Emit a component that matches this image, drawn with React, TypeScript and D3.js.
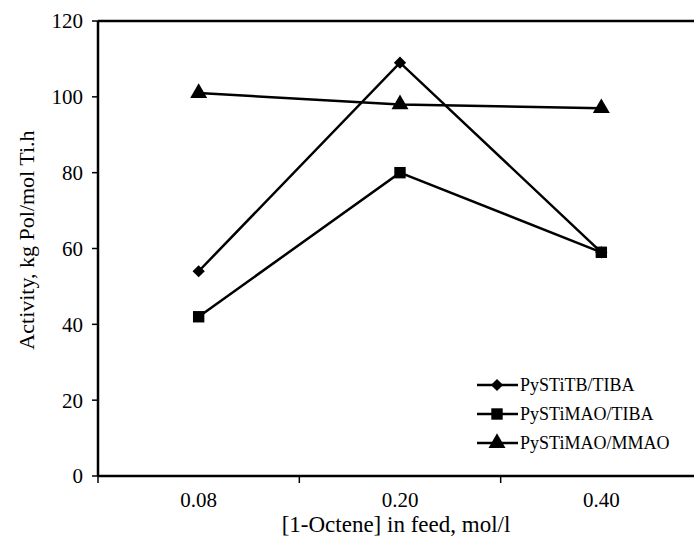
import React from "react";
import * as d3 from "d3";

const categories = ["0.08", "0.20", "0.40"];
const seriesNames = ["PySTiTB/TIBA", "PySTiMAO/TIBA", "PySTiMAO/MMAO"];
const tibaTB = [54, 109, 59];
const tibaMAO = [42, 80, 59];
const mmaoMAO = [101, 98, 97];
const yTicks = [0, 20, 40, 60, 80, 100, 120];

const W = 694, H = 542;
const left = 98, right = 702, top = 21, bottom = 476;
const font = "'Liberation Serif', 'Times New Roman', serif";

function Marker({ type, x, y }: { type: string; x: number; y: number }) {
  const sym = type === "triangle" ? d3.symbolTriangle : d3.symbolSquare;
  const size = type === "diamond" ? 75 : type === "square" ? 130 : 125;
  const p = d3.symbol().type(sym).size(size)();
  const rot = type === "diamond" ? " rotate(45)" : "";
  return <path d={p || ""} transform={`translate(${x},${y})${rot}`} fill="#000" />;
}

export default function App() {
  const x = d3.scaleBand().domain(categories).range([left, right]);
  const y = d3.scaleLinear().domain([0, 120]).range([bottom, top]);
  const series = [
    { name: seriesNames[0], values: tibaTB, m: "diamond" },
    { name: seriesNames[1], values: tibaMAO, m: "square" },
    { name: seriesNames[2], values: mmaoMAO, m: "triangle" },
  ];
  const cx = (c: string) => (x(c) || 0) + x.bandwidth() / 2;
  const line = d3.line<[number, number]>().x((d) => d[0]).y((d) => d[1]);
  return (
    <svg width={W} height={H} style={{ position: "absolute", left: 0, top: 0, background: "#fff" }} fontFamily={font}>
      <rect width={W} height={H} fill="#fff" />
      <line x1={left} x2={right} y1={top} y2={top} stroke="#000" strokeWidth={2.5} />
      <line x1={left} x2={left} y1={top} y2={bottom} stroke="#000" strokeWidth={2.5} />
      <line x1={left} x2={right} y1={bottom} y2={bottom} stroke="#000" strokeWidth={2.5} />
      {yTicks.map((t) => (
        <g key={t}>
          <line x1={left - 6} x2={left} y1={y(t)} y2={y(t)} stroke="#000" strokeWidth={1.5} />
          <text x={left - 15} y={y(t)} dy="0.35em" textAnchor="end" fontSize={21}>{t}</text>
        </g>
      ))}
      {[...categories.map((c) => x(c) || 0), right].map((v, i) => (
        <line key={i} x1={v} x2={v} y1={bottom} y2={bottom + 7} stroke="#000" strokeWidth={1.5} />
      ))}
      {categories.map((c) => (
        <text key={c} x={cx(c)} y={bottom + 31} textAnchor="middle" fontSize={21}>{c}</text>
      ))}
      <text x={396} y={532} textAnchor="middle" fontSize={23}>[1-Octene] in feed, mol/l</text>
      <text transform={`translate(34,${240}) rotate(-90)`} textAnchor="middle" fontSize={22}>
        Activity, kg Pol/mol Ti.h
      </text>
      {series.map((s) => {
        const pts = categories.map((c, i) => [cx(c), y(s.values[i])] as [number, number]);
        return (
          <g key={s.name}>
            <path d={line(pts) || ""} fill="none" stroke="#000" strokeWidth={2.5} />
            {pts.map((p, i) => <Marker key={i} type={s.m} x={p[0]} y={p[1]} />)}
          </g>
        );
      })}
      {series.map((s, i) => {
        const ly = 385 + i * 29;
        return (
          <g key={s.name}>
            <line x1={477} x2={518} y1={ly} y2={ly} stroke="#000" strokeWidth={2.5} />
            <Marker type={s.m} x={497} y={ly} />
            <text x={520} y={ly} dy="0.35em" fontSize={18}>{s.name}</text>
          </g>
        );
      })}
    </svg>
  );
}
